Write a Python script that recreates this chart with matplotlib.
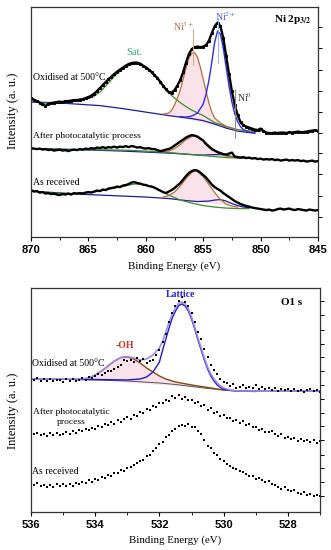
import numpy as np
import matplotlib.pyplot as plt
from matplotlib.ticker import MultipleLocator

plt.rcParams['font.family'] = ['Liberation Serif', 'DejaVu Serif']
plt.rcParams['mathtext.fontset'] = 'stix'

# ---------------- Ni 2p3/2 spectra ----------------
ni_energy = np.linspace(870, 845, 101)
ni_oxidised = [139, 137.5, 136, 134.5, 133, 131, 133, 134, 134.5, 135,
               135.5, 135, 136, 136, 136.5, 137, 137, 137.5, 138, 139,
               140, 141.5, 143.5, 146, 149, 152, 155, 158, 160.5, 163,
               165.5, 167.5, 169.5, 171.5, 173, 174, 174.5, 174.5, 173.5, 171.5,
               169.5, 167.5, 165, 162, 159, 155.5, 151.5, 148, 145, 144.5,
               147, 151.5, 157, 165, 174.5, 183, 188, 190, 190.5, 190,
               190.5, 192, 196.5, 204, 211, 214.5, 211, 199, 181, 163,
               146, 132, 122, 115, 112, 110.5, 109.5, 108.5, 107.5, 107,
               108.5, 106, 104.5, 104, 104, 104.5, 104, 104.5, 104.5, 104,
               105, 104.5, 105, 105.5, 105, 105, 105.5, 106, 106.5, 107, 106]
ni_photo = [89, 88.5, 88, 88.5, 87.5, 88, 87, 87.5, 86.5, 87,
            87.5, 86.5, 87, 86, 87, 87.5, 87, 88, 87.5, 88.5,
            88, 89, 88.5, 89.5, 89, 90, 89, 90, 89.5, 90.5,
            89.5, 90.5, 90, 91, 90, 91, 90.5, 89.5, 90, 89,
            88.5, 89, 88, 88, 87, 86, 86.5, 87.5, 88, 89.5,
            91.5, 93.5, 95.5, 97.5, 99.5, 101, 102, 101.5, 100.5, 98.5,
            96.5, 93, 90.5, 88, 86.5, 85, 84, 83, 82.5, 83.5,
            84.5, 80.5, 80, 79.5, 80, 79, 79.5, 78.5, 79, 78,
            78.5, 77.5, 78, 77.5, 78, 77, 77.5, 76.5, 77, 77.5,
            76.5, 77, 76.5, 77, 76, 76.5, 75.5, 76, 76.5, 75.5, 76]
ni_received = [47, 45.5, 46, 44.5, 45, 43.5, 44, 43, 43.5, 42.5,
               42, 43, 42.5, 43.5, 42.5, 44, 43.5, 44, 43.5, 44.5,
               45, 44.5, 45.5, 46.5, 46, 47.5, 47, 48.5, 49, 49.5,
               50.5, 50, 51.5, 52, 53, 54.5, 55, 54, 53.5, 52.5,
               52, 51, 50.5, 49.5, 48, 46.5, 45, 44, 45.5, 47,
               49, 51.5, 54, 57.5, 61, 64, 66, 67, 66.5, 64.5,
               62, 59.5, 56, 52.5, 50, 48, 46.5, 44, 42, 40,
               38, 36, 34.5, 33, 32, 31, 30.5, 29.5, 29, 28.5,
               28, 27.5, 27, 27.5, 26.5, 27, 28, 28.5, 27.5, 28,
               28.5, 27.5, 27, 28, 27.5, 27, 26.5, 27.5, 27, 26.5, 27]

# fitted components, oxidised
ox_bg_e = [870, 868, 866, 864, 862, 860, 858, 856, 855, 854, 853, 852, 851, 850.5]
ox_bg = [135, 134.5, 133, 131.5, 128.5, 125, 121.5, 118.5, 116.5, 113, 109, 106, 104.5, 104]
ox_sat_e = [870, 869, 868, 867, 866, 865, 864.5, 864, 863.5, 863, 862.5, 862, 861.5, 861, 860.5,
            860, 859.5, 859, 858.5, 858, 857.5, 857, 856.5, 856, 855, 854, 853, 852, 851, 850]
ox_sat = [137, 134, 134, 134.5, 136, 138.5, 141, 145, 151, 157.5, 163.5, 168, 171.5, 173.5, 173,
          170.5, 166, 159.5, 151, 144.5, 139, 134.5, 130.5, 127, 121.5, 114.5, 110.5, 107.5, 106, 105.5]
ox_ni3_e = [858.5, 858, 857.75, 857.5, 857.25, 857, 856.75, 856.5, 856.25, 856, 855.75,
            855.5, 855.25, 855, 854.75, 854.5, 854.25, 854, 853.5, 853, 852.5, 852]
ox_ni3 = [123, 124, 127, 132, 139, 147, 158, 169, 179, 184, 184.5,
          180, 170, 158, 146, 134, 125, 119, 114, 111, 109, 107]
ox_ni2_e = [857, 856.5, 856, 855.5, 855, 854.75, 854.5, 854.25, 854, 853.75, 853.5,
            853.25, 853, 852.75, 852.5, 852.25, 852, 851.75, 851.5, 851, 850.5]
ox_ni2 = [120.5, 120, 121, 124, 133, 143, 157, 175, 195, 206, 203,
          189, 170, 151, 135, 123, 115.5, 110.5, 107.5, 105, 104]

# fitted components, after photocatalytic process
ph_bg_e = [870, 866, 862, 860, 858, 856, 855, 854, 853.5, 853, 852.5, 852, 851]
ph_bg = [88.5, 87.5, 86, 85, 84, 82.5, 82, 82.5, 82.5, 82, 80.5, 79.5, 79]
ph_sat_e = [870, 866, 862, 860, 858, 857, 856, 855, 854, 853, 852, 851]
ph_sat = [88.5, 87.5, 87, 86, 84.5, 83.5, 82.5, 81.5, 80.5, 79.5, 79, 79]
ph_ni3_e = [858.5, 858, 857.5, 857, 856.5, 856, 855.75, 855.5, 855, 854.5, 854, 853.5, 853, 852]
ph_ni3 = [85.5, 86, 88.5, 92.5, 97.5, 100.5, 101, 100, 96.5, 91.5, 86.5, 83, 81, 79.5]

# fitted components, as received
rc_bg_e = [870, 868, 866, 864, 862, 860, 858, 856.5, 855.5, 854.5, 854, 853.5, 853, 852.5, 852, 851.5, 851]
rc_bg = [46, 44.5, 43, 42, 41, 40, 38.5, 36.5, 35.5, 36, 37, 37.5, 36, 33.5, 31.5, 30, 29.5]
rc_sat_e = [870, 868, 866, 865, 864, 863, 862, 861.5, 861, 860.5, 860, 859.5, 859, 858.5,
            858, 857.5, 857, 856, 855, 854, 853, 852, 851]
rc_sat = [46, 44, 43.5, 44.5, 46, 48.5, 50.5, 52, 53, 53, 52, 50.5, 48, 45,
          42, 39.5, 37, 34, 31.5, 30, 29, 28.5, 28.5]
rc_ni3_e = [858.5, 858, 857.5, 857, 856.5, 856, 855.75, 855.5, 855, 854.5, 854, 853.5, 853, 852.5, 852]
rc_ni3 = [40, 41.5, 45, 51, 58.5, 64.5, 66, 65.5, 60.5, 52.5, 44.5, 37.5, 33, 31, 30]

# ---------------- O 1s spectra ----------------
o_energy = np.linspace(536, 527, 91)
o_oxidised = [134, 132, 133.5, 131, 132.5, 131, 133, 130.5, 132, 131.5,
              130, 132.5, 131, 133, 130.5, 132, 134, 132, 135, 134,
              136, 137.5, 136.5, 139, 141, 140.5, 143, 145, 147, 152,
              150.5, 152, 150, 154, 151, 153, 149, 150.5, 152, 157,
              162, 170, 178, 190, 199, 206, 211, 215, 210, 206,
              199, 190, 180, 173, 163, 155, 147, 142, 138, 133,
              130, 128.5, 126, 127.5, 124, 125, 126.5, 123.5, 125, 124,
              127, 123, 124.5, 122.5, 124, 122, 123.5, 121, 123, 121.5,
              122.5, 120.5, 123, 121, 122, 120, 121.5, 123, 120.5, 121.5, 120]
o_photo = [80, 77.5, 79, 76.5, 78, 76, 78.5, 77, 79, 76.5,
           78, 80, 77.5, 80.5, 79, 82, 80.5, 83, 81.5, 84,
           83, 86, 84.5, 88, 86.5, 89.5, 88, 91.5, 90, 93,
           94.5, 93, 97, 96, 100, 99, 103, 102, 106, 105,
           109, 108.5, 112, 111, 115.5, 114, 116.5, 113, 115, 111.5,
           112, 109, 110, 106, 106.5, 102, 103.5, 99, 99.5, 96,
           97, 93.5, 94, 91, 92, 89, 90.5, 87, 87.5, 84.5,
           85, 82, 83, 80, 79.5, 81, 77.5, 76, 77.5, 74,
           75, 72.5, 74, 71, 72.5, 70.5, 72, 69.5, 71.5, 69, 71]
o_received = [30, 27, 28.5, 25.5, 27, 24.5, 26.5, 25, 28, 26,
              27.5, 25.5, 28, 26, 29, 27.5, 30, 28.5, 31.5, 30,
              33, 32, 35, 34, 37, 36, 39, 38.5, 42, 41,
              44, 44.5, 47, 48.5, 51, 52, 56, 57, 61, 63.5,
              68, 70, 75, 77, 81, 82.5, 85.5, 87, 86, 88,
              85, 84.5, 81, 78, 72, 66, 64, 59, 57, 52.5,
              51, 47.5, 46, 44, 42.5, 41, 39.5, 38, 36, 35.5,
              33, 34, 31.5, 30, 30.5, 28, 27, 25, 23, 24.5,
              22, 20.5, 21.5, 19, 18, 19.5, 16.5, 17.5, 15.5, 17, 16]

o_bg_e = [536, 535, 534, 533, 532, 531.5, 531, 530.5, 530, 529.5, 529]
o_bg = [133, 132.5, 132, 131, 129, 127.5, 125.5, 123.5, 122, 121, 120.5]
o_lat_e = [536, 534, 533, 532.6, 532.4, 532.2, 532.0, 531.9, 531.8, 531.7, 531.6, 531.5, 531.4,
           531.3, 531.2, 531.1, 531.0, 530.9, 530.8, 530.7, 530.6, 530.5, 530.4, 530.3, 530.2,
           530.1, 530.0, 529.8, 529.5, 527]
o_lat = [133, 132.5, 132, 133, 135, 140, 150, 162, 173, 184, 194, 201, 206.5,
         208, 206, 201, 193, 183, 172, 162, 152, 143, 136, 131, 127,
         124.5, 123, 121.5, 121, 121]
o_oh_e = [534.4, 534.2, 534.0, 533.8, 533.6, 533.4, 533.2, 533.0, 532.8, 532.6,
          532.4, 532.2, 532.0, 531.8, 531.5, 531.0, 530.5, 530.0, 529.5, 529.0]
o_oh = [132.5, 134, 137, 141, 146, 151, 154.5, 155, 153, 149,
        144, 140, 136, 133, 130, 127, 124.5, 122, 121, 120.5]
o_env_e = [536, 534.5, 534.2, 534, 533.8, 533.6, 533.4, 533.2, 533, 532.8, 532.6, 532.4, 532.2,
           532.0, 531.9, 531.8, 531.7, 531.6, 531.5, 531.4, 531.3, 531.2, 531.1, 531.0, 530.9,
           530.8, 530.7, 530.6, 530.5, 530.4, 530.3, 530.2, 530.1, 530.0, 529.8, 529.5, 527]
o_env = [133, 133, 134, 137, 141, 146, 151, 154.5, 155.5, 154, 152, 153, 157,
         164, 171, 180, 190, 198, 204, 209, 210, 208, 203, 195, 185,
         174, 164, 154, 145, 138, 133, 129, 126, 124, 122, 121, 121]

ni_ticks = [870, 865, 860, 855, 850, 845]
o_ticks = [536, 534, 532, 530, 528]

BG = '#1c1c9a'
BLUE = '#2f2fe0'
GREEN = '#3f8a2f'
BROWN = '#b0703a'
PINK = '#f7cfdc'


def style_axes(ax, xticks, rticks, minor):
    ax.set_xticks(xticks)
    ax.set_xticklabels([str(t) for t in xticks], fontfamily='Liberation Sans',
                       fontweight='bold', fontsize=8)
    ax.xaxis.set_minor_locator(MultipleLocator(minor))
    ax.tick_params(axis='x', which='major', direction='out', length=3, width=0.8, pad=3)
    ax.tick_params(axis='x', which='minor', direction='out', length=2, width=0.6)
    ax.yaxis.tick_right()
    ax.set_yticks(rticks)
    ax.tick_params(axis='y', direction='out', length=3, width=0.7, labelright=False)
    ax.yaxis.set_label_position('left')
    for sp in ax.spines.values():
        sp.set_color('#333333')
        sp.set_linewidth(0.9)
    ax.set_xlabel('Binding Energy (eV)', fontsize=7.8, labelpad=4)
    ax.set_ylabel('Intensity (a. u.)', fontsize=9)


fig = plt.figure(figsize=(3.31, 5.5), dpi=100)

# ---------------- top panel: Ni 2p ----------------
ax1 = fig.add_axes([0.0937, 0.569, 0.867, 0.418])
for e, y in [(ox_ni3_e, ox_ni3), (ph_ni3_e, ph_ni3), (rc_ni3_e, rc_ni3)]:
    ax1.fill(e, y, color=PINK, alpha=0.6, lw=0)
for e, y in [(ox_bg_e, ox_bg), (ph_bg_e, ph_bg), (rc_bg_e, rc_bg)]:
    ax1.plot(e, y, color=BG, lw=0.9)
for e, y in [(ox_sat_e, ox_sat), (ph_sat_e, ph_sat), (rc_sat_e, rc_sat)]:
    ax1.plot(e, y, color=GREEN, lw=0.9)
for e, y in [(ox_ni3_e, ox_ni3), (ph_ni3_e, ph_ni3), (rc_ni3_e, rc_ni3)]:
    ax1.plot(e, y, color=BROWN, lw=0.9)
ax1.plot(ox_ni2_e, ox_ni2, color=BLUE, lw=1.0)
for y in [ni_oxidised, ni_photo, ni_received]:
    ax1.plot(ni_energy, y, color='black', lw=1.7)
ax1.plot(ni_energy, ni_oxidised, 's', color='black', ms=1.2)

# peak position markers
ax1.plot([855.9, 855.9], [172, 208], color='#d9a98a', lw=0.7)
ax1.plot([853.75, 853.75], [174, 219], color='#9ab4e8', lw=0.7)
ax1.plot([852.2, 852.2], [99, 147], color='#888888', lw=0.7)

ax1.text(856.7, 211, 'Ni$^{3+}$', color='#c0604a', fontsize=7, ha='center', va='center')
ax1.text(853.1, 221, 'Ni$^{2+}$', color='#4a5ae0', fontsize=7, ha='center', va='center')
ax1.text(851.4, 140, 'Ni$^{0}$', color='#333333', fontsize=7, ha='center', va='center')
ax1.text(861.0, 185, 'Sat.', color='#3aa86a', fontsize=7.5, ha='center', va='center')
ax1.text(845.6, 218, r'Ni 2p$_{\mathbf{3/2}}$', fontsize=8, fontweight='bold',
         ha='right', va='center')
ax1.text(869.8, 160, 'Oxidised at 500°C', fontsize=7, ha='left', va='center')
ax1.text(869.8, 101, 'After photocatalytic process', fontsize=6.8, ha='left', va='center')
ax1.text(869.8, 55, 'As received', fontsize=7, ha='left', va='center')

ax1.set_xlim(870, 845)
ax1.set_ylim(0, 230)
style_axes(ax1, ni_ticks, [20, 41, 63, 84, 104, 125, 146, 167, 189, 210], 2.5)
ax1.yaxis.set_label_coords(-0.042, 0.55)

# ---------------- bottom panel: O 1s ----------------
ax2 = fig.add_axes([0.0937, 0.0691, 0.873, 0.4073])
ax2.fill(o_oh_e, o_oh, color=PINK, alpha=0.6, lw=0)
ax2.plot(o_bg_e, o_bg, color='#555555', lw=0.7)
ax2.plot(o_oh_e, o_oh, color='#8b4513', lw=1.0)
ax2.plot(o_lat_e, o_lat, color='#1a1ac8', lw=1.0)
ax2.plot(o_env_e, o_env, color='#a08ce0', lw=1.2)
for y in [o_oxidised, o_photo, o_received]:
    ax2.plot(o_energy, y, 's', color='black', ms=1.6, mew=0)

ax2.text(531.33, 217, 'Lattice', color='#2222cc', fontsize=7, fontweight='bold',
         ha='center', va='center')
ax2.text(533.07, 166, '-OH', color='#c0392b', fontsize=7, fontweight='bold',
         ha='center', va='center')
ax2.text(527.56, 209, 'O1 s', fontsize=8, fontweight='bold', ha='right', va='center')
ax2.text(535.98, 148, 'Oxidised at 500°C', fontsize=7, ha='left', va='center')
ax2.text(534.75, 95, 'After photocatalytic\nprocess', fontsize=6.8, ha='center',
         va='center', linespacing=1.3)
ax2.text(535.98, 40, 'As received', fontsize=7, ha='left', va='center')

ax2.set_xlim(536, 527)
ax2.set_ylim(0, 224)
style_axes(ax2, o_ticks, [16, 30, 44, 57, 72, 86, 99, 113, 127, 141, 155, 168, 182, 197, 211], 1)
ax2.yaxis.set_label_coords(-0.042, 0.45)

fig.savefig('out.png', dpi=100)
